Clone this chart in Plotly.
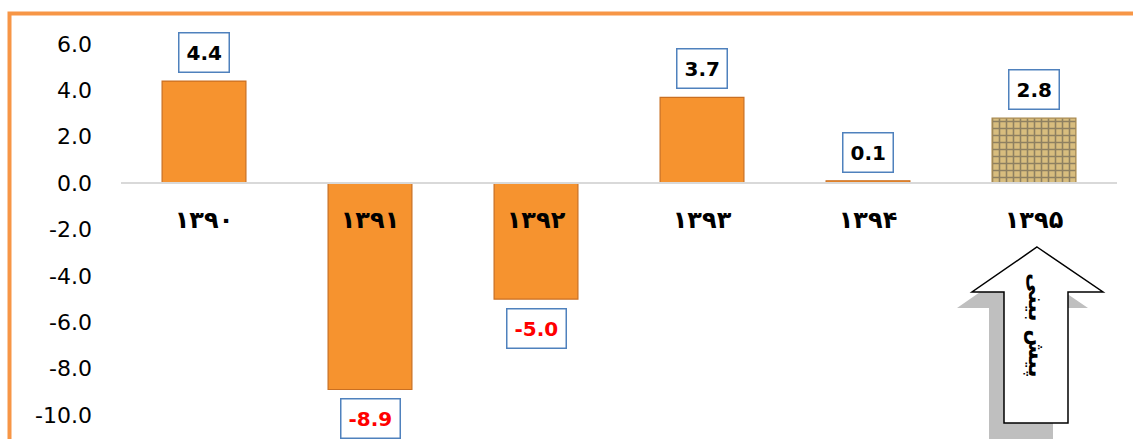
import plotly.graph_objects as go

# ---- data ----
categories = ["۱۳۹۰", "۱۳۹۱", "۱۳۹۲", "۱۳۹۳", "۱۳۹۴", "۱۳۹۵"]
values = [4.4, -8.9, -5.0, 3.7, 0.1, 2.8]
y_ticks = [-10, -8, -6, -4, -2, 0, 2, 4, 6]
arrow_text = "پیش بینی"

W, H = 1133, 439
ML, MR, MT, MB = 121, 16, 20, 0
PW, PH = W - ML - MR, H - MT - MB

# y range so that 6 sits near the top and -10 near the bottom
ymax, ymin = 7.035, -11.035

def px(x):
    return (x - ML) / PW

def py(y):
    return (H - MB - y) / PH

orange = "#F6932F"
bar_colors = [orange] * 5 + ["#D8BD7E"]
line_colors = ["#C96F22"] * 5 + ["#A8884C"]

fig = go.Figure()
fig.add_trace(go.Bar(
    x=categories, y=values, width=0.505,
    marker=dict(
        color=bar_colors,
        line=dict(color=line_colors, width=1.2),
        pattern=dict(
            shape=[""] * 5 + ["+"],
            fgcolor="#8C6A32",
            bgcolor="#E3CB92",
            size=7,
            solidity=0.4,
        ),
    ),
    hoverinfo="skip",
))

annotations = []
for c, v in zip(categories, values):
    pos = v >= 0
    annotations.append(dict(
        x=c, y=v, xref="x", yref="y",
        text=f"<b>{v:.1f}</b>", showarrow=False,
        yanchor="bottom" if pos else "top",
        yshift=8 if pos else -9,
        font=dict(family="DejaVu Sans", size=20, color="#000000" if pos else "#FF0000"),
        bgcolor="#FFFFFF", bordercolor="#4F81BD", borderwidth=1.5, borderpad=7,
    ))

def poly(points, dx=0, dy=0):
    s = ""
    for i, (x, y) in enumerate(points):
        s += ("M" if i == 0 else "L") + f"{px(x + dx):.5f},{py(y + dy):.5f} "
    return s + "Z"

arrow_pts = [(1037, 247), (1103, 292), (1068, 292), (1068, 423),
             (1004, 423), (1004, 292), (972, 292)]
shapes = [
    dict(type="path", xref="paper", yref="paper", path=poly(arrow_pts, -15, 16),
         fillcolor="#BFBFBF", line=dict(width=0), layer="above"),
    dict(type="path", xref="paper", yref="paper", path=poly(arrow_pts),
         fillcolor="#FFFFFF", line=dict(color="#000000", width=1.5), layer="above"),
    dict(type="rect", xref="paper", yref="paper",
         x0=px(9.5), x1=px(1150), y0=py(13.5), y1=py(470),
         line=dict(color="#F79646", width=4), fillcolor="rgba(0,0,0,0)", layer="above"),
]

# arrow text
annotations.append(dict(
    x=px(1036), y=py(325), xref="paper", yref="paper",
    xanchor="center", yanchor="middle",
    text=f"<b>{arrow_text}</b>", showarrow=False, textangle=90,
    font=dict(family="DejaVu Sans", size=22, color="#000000"),
))

fig.update_layout(
    width=W, height=H,
    margin=dict(l=ML, r=MR, t=MT, b=MB, pad=0),
    paper_bgcolor="#FFFFFF", plot_bgcolor="#FFFFFF",
    showlegend=False,
    annotations=annotations,
    shapes=shapes,
    xaxis=dict(
        type="category",
        anchor="free",
        position=(0 - ymin) / (ymax - ymin),
        showline=True, linecolor="#D9D9D9", linewidth=2,
        showgrid=False, zeroline=False,
        ticks="", ticklabelstandoff=15,
        tickfont=dict(family="DejaVu Sans", size=24, color="#000000", weight="bold"),
        automargin=False,
    ),
    yaxis=dict(
        range=[ymin, ymax],
        tickvals=y_ticks,
        ticktext=[f"{t:.1f}" for t in y_ticks],
        showgrid=False, zeroline=False, showline=False,
        ticks="", ticklabelstandoff=28,
        tickfont=dict(family="DejaVu Sans", size=22, color="#000000"),
        automargin=False,
    ),
)

fig.write_html("out.html", config={"displayModeBar": False},
               post_script="document.body.style.margin='0px';")
